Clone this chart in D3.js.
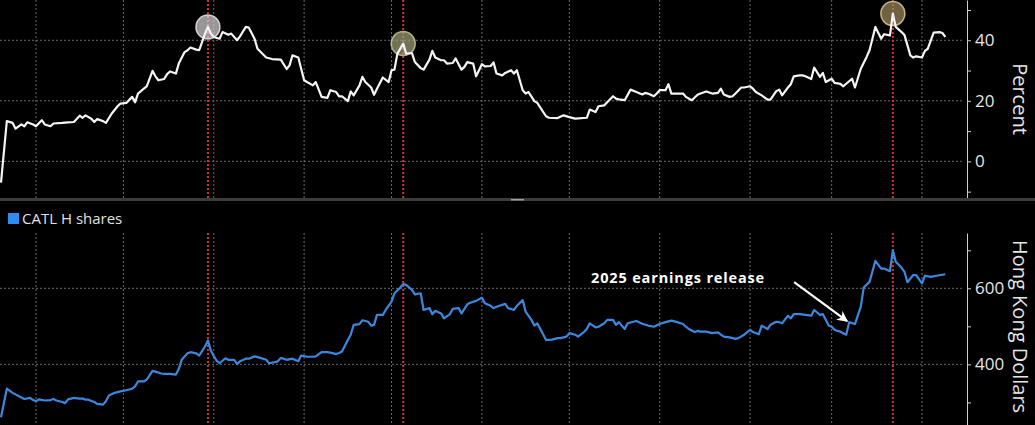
<!DOCTYPE html>
<html>
<head>
<meta charset="utf-8">
<script src="https://cdn.jsdelivr.net/npm/d3@7"></script>
<style>
  body { margin: 0; background: #000; }
  #chart { width: 1035px; height: 425px; }
  text { font-family: "Open Sans", "Noto Sans", sans-serif; }
</style>
</head>
<body>
<div id="chart"></div>
<script>
// days since the H-share listing (20 May 2025)
const pctDays = [
  0,2,4,5,7,8,9,11,12,14,
  15,17,18,21,23,25,27,28,29,31,
  32,33,35,36,38,40,41,43,45,46,
  47,49,50,52,53,54,56,57,58,60,
  61,63,64,65,67,68,70,71,72,73,
  75,76,78,79,81,82,84,85,87,88,
  91,93,96,98,99,100,102,104,105,107,
  108,110,112,113,115,116,117,119,120,121,
  123,124,125,127,128,129,131,133,134,135,
  136,138,139,141,142,144,145,147,148,149,
  151,152,153,155,156,158,159,160,162,163,
  165,166,168,169,170,172,173,175,176,177,
  179,180,181,183,184,187,188,191,193,195,
  197,201,202,204,205,207,210,211,212,214,
  216,218,220,221,222,224,225,226,228,229,
  230,234,235,237,239,240,242,244,246,247,
  248,250,251,252,254,255,257,258,259,261,
  263,264,266,267,268,270,271,272,274,275,
  276,278,279,281,282,283,285,286,288,289,
  292,293,295,297,298,300,302,303,305,306,
  307,309,310,312,313,314,316,317,318,320,
  322,323,324
];
// H-share premium over A shares, percent
const pctValues = [
  -7,13.3,12.7,10.8,12.2,11.6,12.9,12.2,11.6,13.6,
  12.2,11.6,12.5,12.7,12.9,13,15.1,14.4,15.2,14.1,
  13,14,13.3,12.7,15.8,18.2,19.1,19.3,21.3,19.5,
  22.4,24,24.8,29.9,28.1,26.8,27.2,28.8,29.7,29,
  32.3,36.1,36.7,37.6,36.9,36.7,42.2,44.4,42.2,41.1,
  40.5,42.7,41.8,42.2,40,41.3,44.4,44.2,40.5,37.2,
  34.3,33.8,33.6,30.5,31.7,35,34.3,26.8,26.2,25.1,
  26.2,21.3,21,23.5,22.9,21.5,21.5,19.9,23.1,21.8,
  25.1,27.9,26.2,24.4,22,24,27.7,26.2,30.1,30.3,
  35.6,38.9,35.6,35.8,32.8,30.8,30.3,33.6,36.5,34.3,
  33.4,33.4,32.3,32.5,34,30.3,31.2,32.8,32.3,28.1,
  32.1,31.4,31.5,32.7,29,28.4,29.2,30.1,29,30.1,
  23.5,22.4,22.9,19.9,19.3,14.9,14.4,14.3,15.2,14.6,
  14.1,14.4,17.1,16.3,18.2,18.5,21.5,20.7,20.5,20.2,
  23.7,22.9,22.1,22.6,22.4,21.5,22.4,23.5,23.5,25.5,
  22.4,22.4,21.3,20.2,22,22.4,23.1,22.4,22.6,24,
  22.1,21.3,21.5,22.4,24.4,24.4,24.8,24,22.9,21.8,
  20.4,20.4,23.2,23.7,21.8,24.4,25.5,28.1,28.4,28.4,
  28.1,27.2,31,27.9,29.2,26.2,27.3,25.9,25.6,24.8,
  27.3,24.4,30.6,34.5,36.7,44.4,40.5,42,41.6,48.8,
  44.4,42.7,41.7,35,34.3,34.7,34.3,36.5,37.2,42.5,
  42.7,42.4,41.1
];

const hDays = [
  0,2,4,7,8,10,11,12,13,15,
  17,18,19,21,22,23,25,27,28,29,
  30,32,33,35,36,37,39,41,43,45,
  46,47,49,50,52,53,55,56,58,60,
  61,62,64,65,67,68,70,71,72,74,
  75,77,78,80,81,82,84,85,87,89,
  91,92,94,95,96,98,100,102,103,105,
  107,108,110,112,113,115,116,117,119,120,
  121,123,124,126,127,128,129,131,132,134,
  135,137,138,139,141,142,144,145,147,148,
  149,151,152,154,155,157,158,160,161,163,
  165,166,168,169,171,173,174,176,177,179,
  180,182,183,184,186,187,189,191,192,194,
  195,197,198,200,201,202,204,205,207,208,
  210,211,212,214,215,218,220,222,224,226,
  228,230,232,234,235,236,238,239,240,242,
  244,246,247,248,250,252,253,255,257,258,
  260,261,263,264,266,267,268,270,271,272,
  274,276,278,279,281,282,284,285,286,287,
  288,290,291,293,295,296,298,300,302,303,
  305,306,307,309,310,311,313,314,316,317,
  319,321,324
];
// CATL H shares, HK$
const hValues = [
  261,336,325,313,309,312,306,303,308,305,
  306,309,305,301,298,308,312,310,310,307,
  307,301,296,294,303,318,325,329,332,336,
  342,355,355,360,383,381,376,375,375,373,
  388,412,429,432,429,423,447,463,436,409,
  403,416,412,412,401,408,415,415,421,417,
  412,403,406,408,417,412,415,408,423,420,
  420,421,432,432,431,427,430,434,464,478,
  504,506,516,512,502,504,530,530,543,565,
  587,602,611,609,596,584,587,543,548,532,
  541,534,521,532,546,548,534,558,562,567,
  575,561,554,548,554,559,548,543,554,569,
  539,517,502,508,479,464,465,469,469,473,
  482,478,473,485,493,508,497,499,508,517,
  517,504,511,493,508,514,507,502,499,506,
  511,515,511,506,499,493,485,488,486,486,
  482,484,478,473,471,467,469,478,491,485,
  479,502,493,504,512,511,508,528,521,532,
  532,530,528,543,530,532,502,499,491,488,
  486,478,511,506,552,602,617,672,652,652,
  645,700,670,654,643,616,635,635,613,633,
  630,633,637
];

// premium peaks (red lines + circles)
const peakDays = [71, 138, 306];
const peakFills = ["#d9d6d6", "#a3a27a", "#a08a5c"];
const peakStrokes = ["#f0eeee", "#cfcf9e", "#e2d39e"];

const pctTicks = [-10, 0, 10, 20, 30, 40, 50];
const pctLabels = [0, 20, 40];
const hTicks = [300, 400, 500, 600, 700];
const hLabels = [400, 600];

const seriesName = "CATL H shares";
const noteText = "2025 earnings release";
const noteDay = 291, noteValue = 511;

const width = 1035, height = 425;
const start = new Date(2025, 4, 20);
const toDate = function(d) { return d3.timeDay.offset(start, d); };

const axisX = 967, plotRight = 962;
const topPanel = {y0: 0, y1: 198};
const botPanel = {y0: 233, y1: 425};

var svg = d3.select("#chart").append("svg")
    .attr("width", width)
    .attr("height", height)
    .style("background", "#000");

var x = d3.scaleTime()
    .domain([start, new Date(2026, 3, 1)])
    .range([1, 922]);

var yPct = d3.scaleLinear()
    .domain([-12.1, 53.3])
    .range([topPanel.y1, topPanel.y0]);

var yH = d3.scaleLinear()
    .domain([240.5, 745.5])
    .range([botPanel.y1, botPanel.y0]);

var months = d3.timeMonth.range(new Date(2025, 5, 1), new Date(2026, 3, 2));

function grid(panel, y, values) {
  var g = svg.append("g").attr("class", "grid");
  g.selectAll(".vg")
    .data(months)
    .enter().append("line")
      .attr("x1", function(d) { return x(d); })
      .attr("x2", function(d) { return x(d); })
      .attr("y1", panel.y0)
      .attr("y2", panel.y1)
      .attr("stroke", "#6a6a6a")
      .attr("stroke-dasharray", "2,2");
  g.selectAll(".hg")
    .data(values)
    .enter().append("line")
      .attr("x1", 0)
      .attr("x2", plotRight)
      .attr("y1", function(d) { return y(d); })
      .attr("y2", function(d) { return y(d); })
      .attr("stroke", "#6a6a6a")
      .attr("stroke-dasharray", "2,2");
  g.selectAll(".peak")
    .data(peakDays)
    .enter().append("line")
      .attr("x1", function(d) { return x(toDate(d)); })
      .attr("x2", function(d) { return x(toDate(d)); })
      .attr("y1", panel.y0)
      .attr("y2", panel.y1)
      .attr("stroke", "#d3303a")
      .attr("stroke-width", 2)
      .attr("stroke-dasharray", "2,2");
}

function axis(y, ticks, labels, title, titleY, anchor) {
  var a = svg.append("g")
      .attr("transform", "translate(" + axisX + ",0)")
      .call(d3.axisRight(y)
        .tickValues(ticks)
        .tickSize(4)
        .tickSizeOuter(0)
        .tickPadding(4)
        .tickFormat(function(d) { return labels.indexOf(d) >= 0 ? d : ""; }));
  a.select(".domain").attr("stroke", "#cfcfcf");
  a.selectAll(".tick line").attr("stroke", "#cfcfcf");
  a.selectAll(".tick text")
      .attr("fill", "#e6e6e6")
      .style("font-size", "17px")
      .style("font-family", "'Open Sans', sans-serif");

  svg.append("text")
      .attr("transform", "translate(1013," + titleY + ") rotate(90)")
      .attr("text-anchor", anchor)
      .attr("fill", "#e6e6e6")
      .style("font-size", "20px")
      .text(title);
}

/* TOP PANEL */
grid(topPanel, yPct, pctLabels);

var pctData = pctDays.map(function(d, i) { return {date: toDate(d), v: pctValues[i]}; });

svg.selectAll(".peakCircle")
  .data(peakDays)
  .enter().append("circle")
    .attr("cx", function(d) { return x(toDate(d)); })
    .attr("cy", function(d) { return yPct(pctValues[pctDays.indexOf(d)]); })
    .attr("r", 12)
    .attr("fill", function(d, i) { return peakFills[i]; })
    .attr("fill-opacity", 0.7)
    .attr("stroke", function(d, i) { return peakStrokes[i]; })
    .attr("stroke-opacity", 0.8)
    .attr("stroke-width", 1.5);

svg.append("path")
    .datum(pctData)
    .attr("fill", "none")
    .attr("stroke", "#f4f4f4")
    .attr("stroke-width", 2.2)
    .attr("stroke-linejoin", "round")
    .attr("d", d3.line()
      .x(function(d) { return x(d.date); })
      .y(function(d) { return yPct(d.v); }));

axis(yPct, pctTicks, pctLabels, "Percent", 99, "middle");

// panel divider
svg.append("rect")
    .attr("x", 0).attr("y", 198)
    .attr("width", width).attr("height", 3)
    .attr("fill", "#3c3c3c");
svg.append("rect")
    .attr("x", 511).attr("y", 199)
    .attr("width", 13).attr("height", 1.5)
    .attr("fill", "#a0a0a0");

/* BOTTOM PANEL */
grid(botPanel, yH, hLabels);

var hData = hDays.map(function(d, i) { return {date: toDate(d), v: hValues[i]}; });

svg.append("path")
    .datum(hData)
    .attr("fill", "none")
    .attr("stroke", "#3b88de")
    .attr("stroke-width", 2.2)
    .attr("stroke-linejoin", "round")
    .attr("d", d3.line()
      .x(function(d) { return x(d.date); })
      .y(function(d) { return yH(d.v); }));

axis(yH, hTicks, hLabels, "Hong Kong Dollars", 240, "start");

// legend
svg.append("rect")
    .attr("x", 8).attr("y", 213)
    .attr("width", 11).attr("height", 11)
    .attr("fill", "#2f8cf0");
svg.append("text")
    .attr("x", 22).attr("y", 224)
    .attr("fill", "#e0e0e0")
    .style("font-size", "15px")
    .text(seriesName);

// annotation
svg.append("defs").append("marker")
    .attr("id", "head")
    .attr("viewBox", "0 0 10 10")
    .attr("refX", 9).attr("refY", 5)
    .attr("markerWidth", 5).attr("markerHeight", 5)
    .attr("markerUnits", "strokeWidth")
    .attr("orient", "auto")
  .append("path")
    .attr("d", "M0,0 L10,5 L0,10 L3,5 Z")
    .attr("fill", "#fff");

var tipX = x(toDate(noteDay)) - 2, tipY = yH(noteValue) - 1;
svg.append("line")
    .attr("x1", tipX - 53).attr("y1", tipY - 39)
    .attr("x2", tipX).attr("y2", tipY)
    .attr("stroke", "#fff")
    .attr("stroke-width", 2.2)
    .attr("marker-end", "url(#head)");

svg.append("text")
    .attr("x", 591).attr("y", 283)
    .attr("fill", "#fff")
    .style("font-size", "14.5px")
    .style("font-weight", "bold")
    .style("letter-spacing", "0.85px")
    .text(noteText);
</script>
</body>
</html>
